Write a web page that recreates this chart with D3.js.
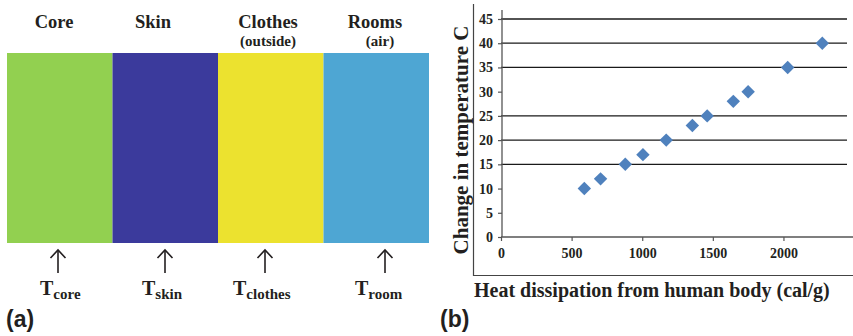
<!DOCTYPE html>
<html>
<head>
<meta charset="utf-8">
<script src="https://cdn.jsdelivr.net/npm/d3@7"></script>
<style>
  html, body { margin: 0; padding: 0; background: #fff; }
  svg { display: block; }
</style>
</head>
<body>
<svg id="chart" width="853" height="336"></svg>
<script>
// Panel (a): heat-transfer layers
const layers = ["Core", "Skin", "Clothes", "Rooms"];
const layerNotes = ["", "", "(outside)", "(air)"];
const layerColors = ["#92d050", "#3b3a9c", "#ece22f", "#4ea6d3"];
const tempSubs = ["core", "skin", "clothes", "room"];

// Panel (b): temperature change vs heat dissipation
const heatDissipation = [590, 705, 880, 1005, 1170, 1355, 1460, 1645, 1750, 2030, 2275];
const tempChange = [10, 12, 15, 17, 20, 23, 25, 28, 30, 35, 40];
const xTicks = [0, 500, 1000, 1500, 2000];
const yTicks = [0, 5, 10, 15, 20, 25, 30, 35, 40, 45];
const yGridValues = [15, 20, 25, 35, 40, 45];

const SERIF = '"Liberation Serif", "Times New Roman", Times, serif';
const SANS = '"Liberation Sans", Arial, Helvetica, sans-serif';
const INK = "#231f20";

const svg = d3.select("#chart");
const serif = sel => sel.style("font-family", SERIF).style("font-weight", "bold").attr("fill", INK);

// ---------- Panel (a) ----------
const bandX = d3.scaleBand().domain(layers).range([7, 429]).paddingInner(0).paddingOuter(0);
const bandTop = 53, bandBottom = 243;

const a = svg.append("g");
a.selectAll("rect.band").data(layers).join("rect")
  .attr("class", "band")
  .attr("x", d => bandX(d))
  .attr("y", bandTop)
  .attr("width", bandX.bandwidth())
  .attr("height", bandBottom - bandTop)
  .attr("fill", (d, i) => layerColors[i]);

const titleX = [54, 153, 268, 375];
const noteX = [0, 0, 268, 380];
a.selectAll("text.layer").data(layers).join("text")
  .attr("class", "layer")
  .attr("x", (d, i) => titleX[i])
  .attr("y", 27.5)
  .attr("text-anchor", "middle")
  .attr("font-size", 18.5)
  .call(serif)
  .text(d => d);

a.selectAll("text.note").data(layerNotes.map((n, i) => ({ n, i })).filter(d => d.n)).join("text")
  .attr("class", "note")
  .attr("x", d => noteX[d.i])
  .attr("y", 46)
  .attr("text-anchor", "middle")
  .attr("font-size", 15)
  .call(serif)
  .text(d => d.n);

// arrows pointing up to each layer
const arrowX = [58, 165, 265, 385];
const arrows = a.selectAll("g.arrow").data(layers).join("g").attr("class", "arrow")
  .attr("transform", (d, i) => `translate(${arrowX[i]},0)`);
arrows.append("line")
  .attr("x1", 0).attr("x2", 0).attr("y1", 250).attr("y2", 273)
  .attr("stroke", INK).attr("stroke-width", 1.6);
arrows.append("path")
  .attr("d", "M-7.5,258 L0,250 L7.5,258")
  .attr("fill", "none").attr("stroke", INK).attr("stroke-width", 1.6);

// T labels with subscripts
const tLabelX = [40, 142, 233, 355];
const tl = a.selectAll("text.tlabel").data(tempSubs).join("text")
  .attr("class", "tlabel")
  .attr("x", (d, i) => tLabelX[i])
  .attr("y", 295)
  .attr("font-size", 20)
  .call(serif);
tl.append("tspan").text("T");
tl.append("tspan").attr("font-size", 15).attr("dy", 4).text(d => d);

svg.append("text")
  .attr("x", 6).attr("y", 327)
  .attr("font-size", 23)
  .style("font-family", SANS).style("font-weight", "bold").attr("fill", INK)
  .text("(a)");

// ---------- Panel (b) ----------
const x = d3.scaleLinear().domain([0, 2450]).range([501, 847]);
const y = d3.scaleLinear().domain([0, 45]).range([237, 19]);

const b = svg.append("g");

// chart frame (left and bottom edges visible)
b.append("path")
  .attr("d", "M473.5,4 L473.5,275.5 L853,275.5")
  .attr("fill", "none").attr("stroke", "#444").attr("stroke-width", 1.2);

// horizontal gridlines
b.selectAll("line.grid").data(yGridValues).join("line")
  .attr("class", "grid")
  .attr("x1", x(0)).attr("x2", x(2450))
  .attr("y1", d => y(d)).attr("y2", d => y(d))
  .attr("stroke", "#1a1a1a").attr("stroke-width", 1.3);

// y axis
const yAxis = b.append("g")
  .attr("transform", `translate(${x(0) + 1},0)`)
  .call(d3.axisLeft(y).tickValues(yTicks).tickSize(4).tickPadding(5).tickFormat(d3.format("d")));
yAxis.select(".domain").attr("d", `M0,10V${y(0)}`).attr("stroke", "#555").attr("stroke-width", 1.3);
yAxis.selectAll(".tick line").attr("stroke", "#555").attr("stroke-width", 1.2);
yAxis.selectAll(".tick text").attr("font-size", 14).call(serif);

// x axis
const xAxis = b.append("g")
  .attr("transform", `translate(0,${y(0)})`)
  .call(d3.axisBottom(x).tickValues(xTicks).tickSize(4).tickPadding(7).tickFormat(d3.format("d")));
xAxis.select(".domain").attr("d", `M${x(0)},0H853`).attr("stroke", "#555").attr("stroke-width", 1.3);
xAxis.selectAll(".tick line").attr("stroke", "#555").attr("stroke-width", 1.2);
xAxis.selectAll(".tick text").attr("font-size", 14).call(serif);

// data points as diamonds
const diamond = d3.symbol().type(d3.symbolDiamond2).size(115);
b.selectAll("path.pt").data(heatDissipation.map((h, i) => [h, tempChange[i]])).join("path")
  .attr("class", "pt")
  .attr("d", diamond)
  .attr("transform", d => `translate(${x(d[0])},${y(d[1])})`)
  .attr("fill", "#4f81bd");

// axis titles
b.append("text")
  .attr("transform", "translate(468,140) rotate(-90)")
  .attr("text-anchor", "middle")
  .attr("font-size", 21)
  .call(serif)
  .text("Change in temperature C");

b.append("text")
  .attr("x", 474).attr("y", 297)
  .attr("font-size", 20)
  .call(serif)
  .text("Heat dissipation from human body (cal/g)");

svg.append("text")
  .attr("x", 440).attr("y", 327)
  .attr("font-size", 23)
  .style("font-family", SANS).style("font-weight", "bold").attr("fill", INK)
  .text("(b)");
</script>
</body>
</html>
